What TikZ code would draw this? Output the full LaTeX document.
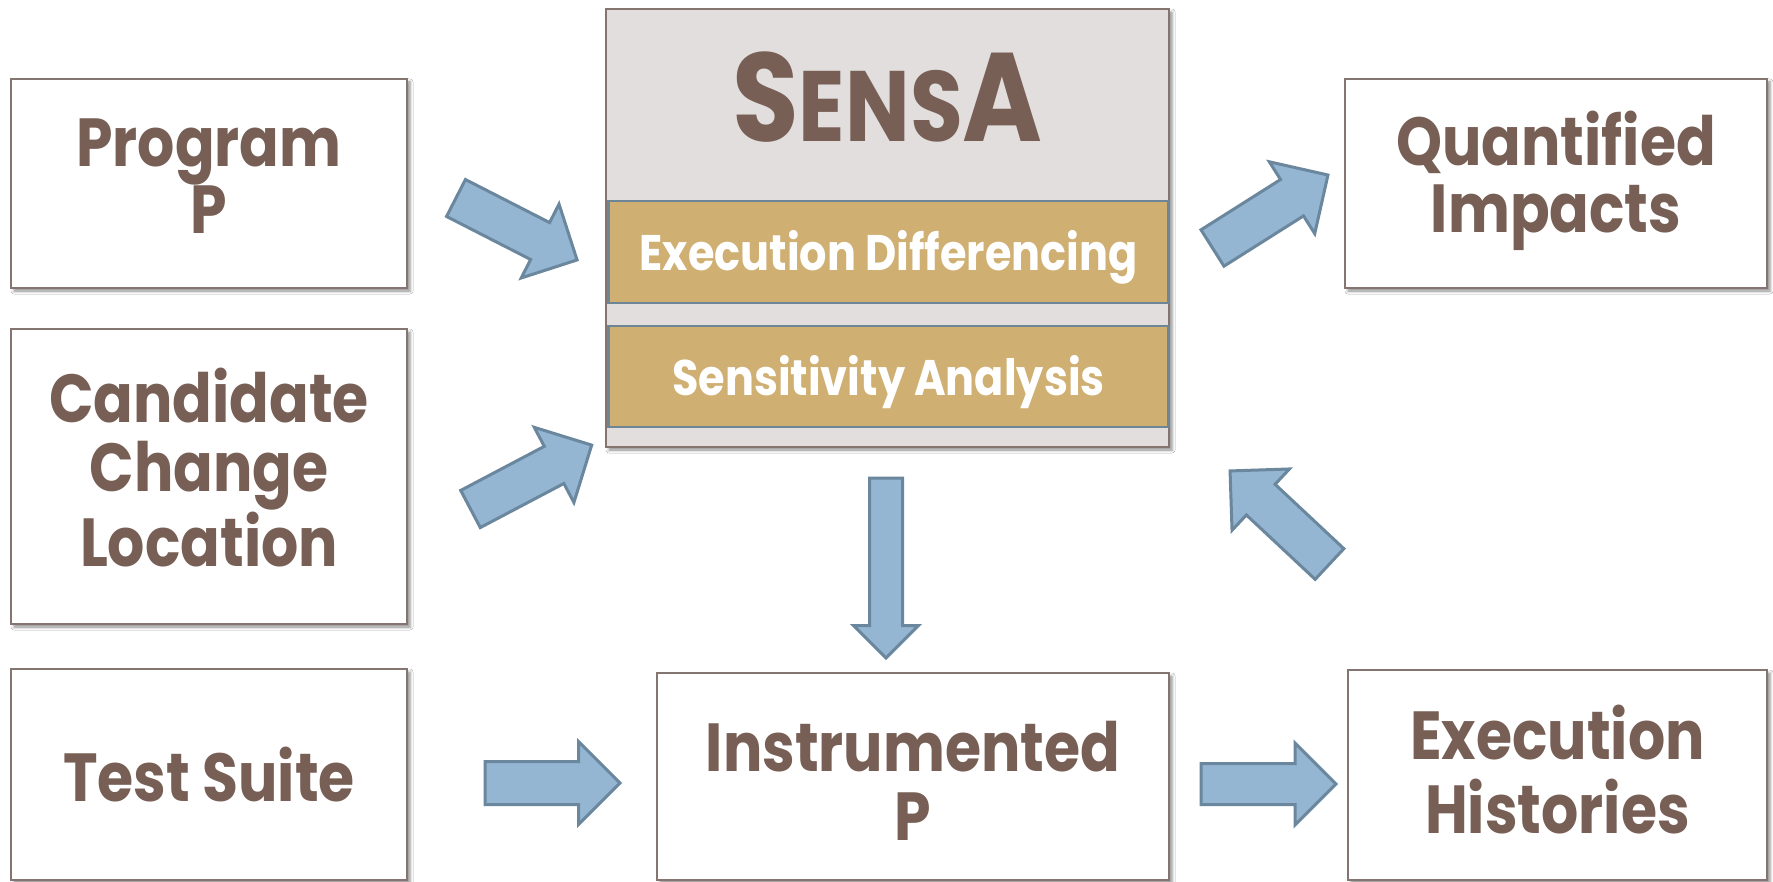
\documentclass[tikz,border=0pt]{standalone}
\usepackage{fontspec}
\setmainfont{Poppins}[FakeStretch=0.86]
\usetikzlibrary{shapes.arrows,shadows.blur}
\definecolor{txt}{HTML}{775F55}
\definecolor{boxline}{HTML}{857570}
\definecolor{sensafill}{HTML}{E2DEDD}
\definecolor{tan}{HTML}{CFAF72}
\definecolor{tanline}{HTML}{6E8596}
\definecolor{arrfill}{HTML}{94B6D3}
\definecolor{arrline}{HTML}{6A879D}
\tikzset{
  box/.style={draw=boxline, line width=2.5pt, fill=white,
    blur shadow={shadow xshift=3pt, shadow yshift=-3pt, shadow blur radius=3pt, shadow opacity=45},
    font=\bfseries\fontsize{68}{67}\selectfont, text=txt, align=center, inner sep=0pt},
  inner/.style={draw=tanline, line width=2.5pt, fill=tan, text=white,
    font=\bfseries\fontsize{50}{50}\selectfont, inner sep=0pt, text depth=0pt},
  blk/.style={single arrow, draw=arrline, fill=arrfill, line width=3pt,
    inner xsep=0pt, outer sep=0pt, anchor=tail},
}
\begin{document}
\begin{tikzpicture}[x=1pt,y=-1pt]
\useasboundingbox (0,0) rectangle (1773,882);
\fill[white] (0,0) rectangle (1773,882);
% left column
\node[box, minimum width=396pt, minimum height=209pt, text height=115pt, text depth=14pt] (prog) at (209,183.5) {Program\\P};
\node[box, minimum width=396pt, minimum height=295pt, font=\bfseries\fontsize{68}{69.5}\selectfont,
      text height=186pt, text depth=7pt] (cand) at (209,476.5) {Candidate\\Change\\Location};
\node[box, minimum width=396pt, minimum height=211pt, text height=53pt, text depth=0pt] (test) at (209,774.5) {Test Suite};
% SensA
\node[box, fill=sensafill, minimum width=563pt, minimum height=438pt] (sensa) at (887.5,228) {};
\node[text=txt, font=\bfseries, inner sep=0pt] (title) at (887.5,97)
  {\fontsize{126}{126}\selectfont S\fontsize{100}{100}\selectfont ENS\fontsize{126}{126}\selectfont A};
\node[inner, minimum width=560pt, minimum height=102pt, text height=38pt] (diff) at (888.5,252) {Execution Differencing};
\node[inner, minimum width=560pt, minimum height=101pt, text height=39pt] (sens) at (888.5,376.5) {Sensitivity Analysis};
% right column
\node[box, minimum width=422pt, minimum height=209pt, text height=118pt, text depth=19pt] (quant) at (1556,183.5) {Quantified\\Impacts};
\node[box, minimum width=512pt, minimum height=207pt, font=\bfseries\fontsize{68}{69}\selectfont,
      text height=127pt, text depth=0pt] (instr) at (913,776.5) {Instrumented\\P};
\node[box, minimum width=419pt, minimum height=210pt, font=\bfseries\fontsize{68}{74}\selectfont,
      text height=120pt, text depth=4pt] (hist) at (1557.5,775) {Execution\\Histories};
% block arrows
\node[blk, rotate=-27.1, minimum height=136pt, inner ysep=19.25pt, single arrow head extend=20.75pt] (a1) at (456,198) {};
\node[blk, rotate=27.8, minimum height=137pt, inner ysep=19.5pt, single arrow head extend=21.5pt] (a2) at (470.5,509) {};
\node[blk, rotate=32.3, minimum height=136.6pt, inner ysep=20pt, single arrow head extend=21pt] (a3) at (1212.5,248) {};
\node[blk, rotate=136.9, minimum height=136.2pt, inner ysep=19.5pt, single arrow head extend=21pt] (a4) at (1329.5,564) {};
\node[blk, rotate=-90, minimum height=180pt, inner ysep=15pt, single arrow head extend=16pt] (a5) at (886,478) {};
\node[blk, rotate=0, minimum height=135pt, inner ysep=20pt, single arrow head extend=20pt] (a6) at (485,783) {};
\node[blk, rotate=0, minimum height=135pt, inner ysep=19pt, single arrow head extend=20.5pt] (a7) at (1201,784) {};
\end{tikzpicture}
\end{document}
